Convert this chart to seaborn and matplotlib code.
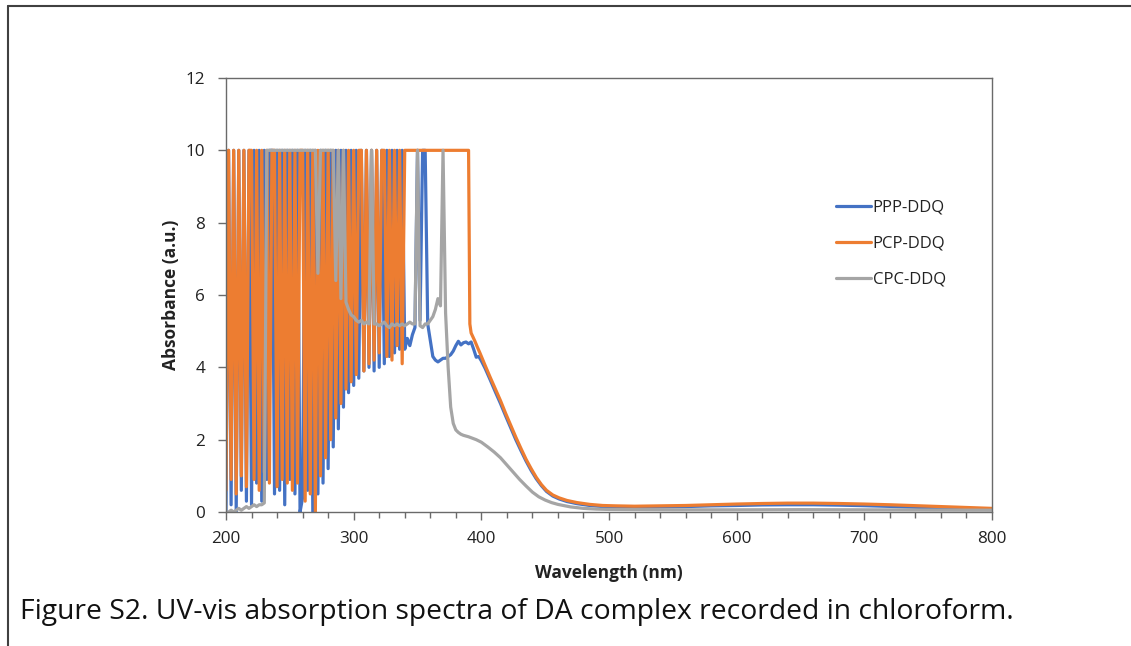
import numpy as np
import pandas as pd
import matplotlib
matplotlib.use("Agg")
import matplotlib.pyplot as plt
from matplotlib.lines import Line2D
from matplotlib.ticker import MultipleLocator
import seaborn as sns

# ---------------- data ----------------
# shared sampling grid for the noisy (saturated) UV region, nm
noisy_nm = [200, 202, 204, 206, 208, 210, 212, 214, 216, 218,
            220, 222, 224, 226, 228, 230, 232, 234, 236, 238,
            240, 242, 244, 246, 248, 250, 252, 254, 256, 258,
            260, 262, 264, 266, 268, 270, 272, 274, 276, 278,
            280, 282, 284, 286, 288, 290, 292, 294, 296, 298,
            300, 302, 304, 306, 308, 310, 312, 314, 316, 318,
            320, 322, 324, 326, 328, 330, 332, 334, 336, 338,
            340, 342, 344, 346, 348, 350, 352, 354, 356, 358,
            360, 362, 364, 366, 368, 370, 372, 374, 376, 378,
            380, 382, 384, 386, 388]

ppp_noisy = [0.0, 10, 0.2, 10, 0.0, 10, 0.6, 10, 0.3, 10,
             0.2, 10, 0.8, 10, 0.3, 10, 0.9, 10, 10, 0.5,
             10, 0.6, 10, 0.2, 10, 0.9, 10, 0.5, 10, 0.0,
             0.4, 10, 0.6, 10, 0.0, 10, 0.5, 10, 0.8, 10,
             1.2, 10, 1.8, 10, 2.3, 10, 2.9, 10, 3.3, 10,
             3.5, 10, 3.7, 10, 3.9, 10, 4.0, 10, 3.9, 10,
             4.0, 10, 4.1, 10, 4.3, 10, 4.4, 10, 4.5, 10,
             4.5, 4.8, 4.6, 4.9, 5.1, 10, 5.3, 10, 10, 5.2,
             4.75, 4.3, 4.2, 4.15, 4.2, 4.25, 4.25, 4.3, 4.35, 4.45,
             4.6, 4.72, 4.62, 4.68, 4.7]

pcp_noisy = [0.6, 10, 0.9, 10, 0.5, 10, 1.0, 10, 0.7, 10,
             10, 0.9, 10, 0.6, 10, 1.1, 10, 0.8, 10, 10,
             0.7, 10, 0.9, 10, 0.8, 10, 0.6, 10, 0.8, 10,
             10, 0.3, 10, 0.5, 10, 0.0, 10, 1.0, 10, 1.5,
             10, 2.0, 10, 2.6, 10, 3.0, 10, 3.4, 10, 3.6,
             10, 3.8, 10, 10, 3.9, 10, 4.1, 10, 4.2, 10,
             4.4, 10, 10, 4.3, 10, 4.2, 10, 4.6, 10, 4.1,
             10, 10, 10, 10, 10, 10, 10, 10, 10, 10,
             10, 10, 10, 10, 10, 10, 10, 10, 10, 10,
             10, 10, 10, 10, 10]

cpc_noisy = [0.0, 0.0, 0.05, 0.0, 0.05, 0.1, 0.05, 0.1, 0.15, 0.1,
             0.15, 0.2, 0.15, 0.2, 0.2, 0.25, 10, 10, 10, 10,
             10, 10, 10, 10, 10, 10, 10, 10, 10, 10,
             10, 10, 10, 10, 10, 10, 6.6, 10, 10, 10,
             10, 10, 10, 6.4, 10, 5.9, 10, 5.8, 5.6, 5.45,
             5.4, 5.3, 5.25, 5.3, 5.2, 5.25, 5.2, 10, 5.2, 5.2,
             5.15, 5.2, 5.25, 5.15, 5.1, 5.2, 5.15, 5.2, 5.15, 5.2,
             5.15, 5.2, 5.25, 5.2, 5.2, 10, 5.15, 5.1, 5.2, 5.2,
             5.3, 5.4, 5.6, 5.9, 5.7, 10, 5.5, 4.0, 2.9, 2.45,
             2.27, 2.2, 2.15, 2.12, 2.1]

# smooth visible region
ppp_tail_nm = [390, 392, 394, 396, 398, 400, 403, 407, 411, 415,
               419, 423, 427, 431, 435, 439, 443, 447, 451, 456,
               461, 467, 475, 485, 495, 505, 520, 540, 560, 580,
               600, 620, 640, 660, 680, 700, 720, 740, 760, 780, 800]
ppp_tail = [4.65, 4.7, 4.5, 4.28, 4.3, 4.18, 3.97, 3.65, 3.32, 3.0,
            2.66, 2.33, 2.0, 1.7, 1.41, 1.15, 0.92, 0.73, 0.57, 0.44,
            0.36, 0.29, 0.23, 0.18, 0.15, 0.14, 0.13, 0.14, 0.15, 0.17,
            0.18, 0.195, 0.2, 0.2, 0.19, 0.175, 0.155, 0.13, 0.11, 0.09, 0.07]

pcp_tail_nm = [390, 391, 392, 395, 397, 399, 403, 407, 411, 415,
               419, 423, 427, 431, 435, 439, 443, 447, 451, 456,
               461, 467, 475, 485, 495, 505, 520, 540, 560, 580,
               600, 620, 640, 660, 680, 700, 720, 740, 760, 780, 800]
pcp_tail = [10, 5.2, 4.95, 4.72, 4.55, 4.39, 4.05, 3.72, 3.4, 3.08,
            2.73, 2.4, 2.07, 1.76, 1.46, 1.2, 0.96, 0.76, 0.6, 0.47,
            0.39, 0.32, 0.26, 0.21, 0.18, 0.17, 0.16, 0.17, 0.18, 0.2,
            0.22, 0.235, 0.245, 0.245, 0.235, 0.22, 0.2, 0.175, 0.15, 0.125, 0.1]

cpc_tail_nm = [390, 396, 400, 405, 410, 415, 420, 425, 430, 435,
               440, 445, 450, 455, 460, 470, 480, 490, 500, 550,
               600, 650, 700, 750, 800]
cpc_tail = [2.08, 2.0, 1.93, 1.8, 1.66, 1.5, 1.3, 1.1, 0.9, 0.72,
            0.55, 0.42, 0.33, 0.26, 0.21, 0.14, 0.1, 0.08, 0.07, 0.06,
            0.06, 0.065, 0.06, 0.055, 0.05]

series_names = ["PPP-DDQ", "PCP-DDQ", "CPC-DDQ"]
y_ticks = [0, 2, 4, 6, 8, 10, 12]
x_ticks = [200, 300, 400, 500, 600, 700, 800]
caption = "Figure S2. UV-vis absorption spectra of DA complex recorded in chloroform."

# ---------------- plot ----------------
sns.set_style("white")
plt.rcParams["font.family"] = ["Open Sans", "DejaVu Sans"]

W, H = 1131, 646
fig = plt.figure(figsize=(W / 100, H / 100), dpi=100)
ax = fig.add_axes([226 / W, 1 - 512 / H, (992 - 226) / W, (512 - 78) / H])

colors = ["#4472C4", "#ED7D31", "#A5A5A5"]
data = [
    (noisy_nm + ppp_tail_nm, ppp_noisy + ppp_tail),
    (noisy_nm + pcp_tail_nm, pcp_noisy + pcp_tail),
    (noisy_nm + cpc_tail_nm, cpc_noisy + cpc_tail),
]
for name, col, (xs, ys) in zip(series_names, colors, data):
    df = pd.DataFrame({"nm": xs, "abs": ys})
    sns.lineplot(data=df, x="nm", y="abs", ax=ax, color=col, lw=2.3,
                 label=name, sort=False, estimator=None)

ax.set_xlim(200, 800)
ax.set_ylim(0, 12)
ax.set_xticks(x_ticks)
ax.set_yticks(y_ticks)
ax.xaxis.set_minor_locator(MultipleLocator(20))

spine_c = "#6a6a6a"
for s in ax.spines.values():
    s.set_color(spine_c)
    s.set_linewidth(1.0)

ax.tick_params(axis="y", which="major", direction="out", length=6, width=1,
               color=spine_c, labelsize=12.3, pad=9, left=True, labelcolor="#222222")
ax.tick_params(axis="x", which="major", direction="out", length=6, width=1,
               color=spine_c, labelsize=12.3, pad=8, bottom=True, labelcolor="#222222")
ax.tick_params(axis="x", which="minor", direction="out", length=4, width=1,
               color=spine_c, bottom=True)

ax.set_xlabel("Wavelength (nm)", fontsize=12.5, fontweight="bold", labelpad=12,
              color="#222222")
ax.set_ylabel("Absorbance (a.u.)", fontsize=12.5, fontweight="bold", labelpad=4,
              color="#222222")

leg = ax.legend(loc="upper left", bbox_to_anchor=(836 / W, 1 - 200 / H),
                bbox_transform=fig.transFigure, frameon=False, fontsize=12,
                handlelength=2.1, handletextpad=0.1, labelspacing=1.2,
                borderpad=0, borderaxespad=0)
for t in leg.get_texts():
    t.set_color("#222222")

# document frame lines (top and left)
fig.add_artist(Line2D([7.5 / W, 1.0], [1 - 5.5 / H, 1 - 5.5 / H],
                      transform=fig.transFigure, color="#404040", lw=1.5))
fig.add_artist(Line2D([7.5 / W, 7.5 / W], [1 - 5.5 / H, 0.0],
                      transform=fig.transFigure, color="#404040", lw=1.5))

fig.text(20 / W, 1 - 612 / H, caption, fontsize=20.3, va="center", ha="left",
         color="#111111")

fig.savefig("out.png", dpi=100)
